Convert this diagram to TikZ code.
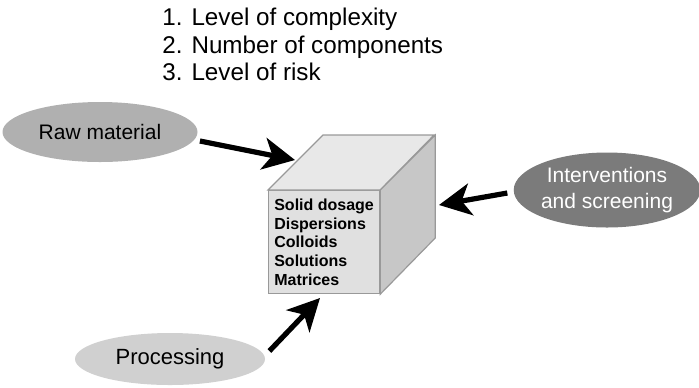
\documentclass[tikz,border=0pt]{standalone}
\usepackage{fontspec}
\setmainfont{Liberation Sans}
\usetikzlibrary{arrows.meta,shapes.geometric,positioning}

\definecolor{rawgray}{HTML}{B0B0B0}
\definecolor{intgray}{HTML}{7B7B7B}
\definecolor{procgray}{HTML}{D0D0D0}

\begin{document}
\begin{tikzpicture}[
  x=0.5pt, y=-0.5pt,
  font=\fontsize{10.5}{13}\selectfont,
  blob/.style={ellipse, inner sep=0pt, align=center},
  face/.style={draw=black!40, line width=0.6pt},
  arr/.style={-{Stealth[length=16pt, width=16pt, inset=4.5pt]}, line width=2.6pt}
]
\useasboundingbox (0,0) rectangle (699,387);
\node[anchor=north west, inner sep=0pt, align=left, font=\fontsize{12.1}{13.75}\selectfont] (crit) at (162,8)
  {1. Level of complexity\\2. Number of components\\3. Level of risk};
% cube
\node[face, fill=black!12, anchor=north west, minimum width=55.5pt, minimum height=51.5pt, inner sep=0pt,
  align=left, font=\fontsize{8}{9.3}\selectfont\bfseries] (front) at (268,190)
  {Solid dosage\\Dispersions\\Colloids\\Solutions\\Matrices};
\draw[face, fill=black!9] (front.north west) -- ++(55,-55) -- ++(111,0) -- (front.north east) -- cycle;
\draw[face, fill=black!22] (front.north east) -- ++(55,-55) -- ++(0,103) -- (front.south east) -- cycle;
% inputs
\node[blob, fill=rawgray, minimum width=97.5pt, minimum height=30pt] (raw) at (100,132) {Raw material};
\node[blob, fill=intgray, text=white, minimum width=90pt, minimum height=37.5pt] (inter) at (607,190) {Interventions\\and screening};
\node[blob, fill=procgray, minimum width=95pt, minimum height=26pt, font=\fontsize{11}{13}\selectfont] (proc) at (170,359) {Processing};
\coordinate (rawtip) at (295,160);
\coordinate (inttip) at (439,205);
\coordinate (proctip) at (320,298);
\draw[arr] ([xshift=1pt,yshift=-4.5pt]raw.east) -- (rawtip);
\draw[arr] ([xshift=-3pt,yshift=-1.5pt]inter.west) -- (inttip);
\draw[arr] ([xshift=2pt,yshift=4pt]proc.east) -- (proctip);
\end{tikzpicture}
\end{document}
